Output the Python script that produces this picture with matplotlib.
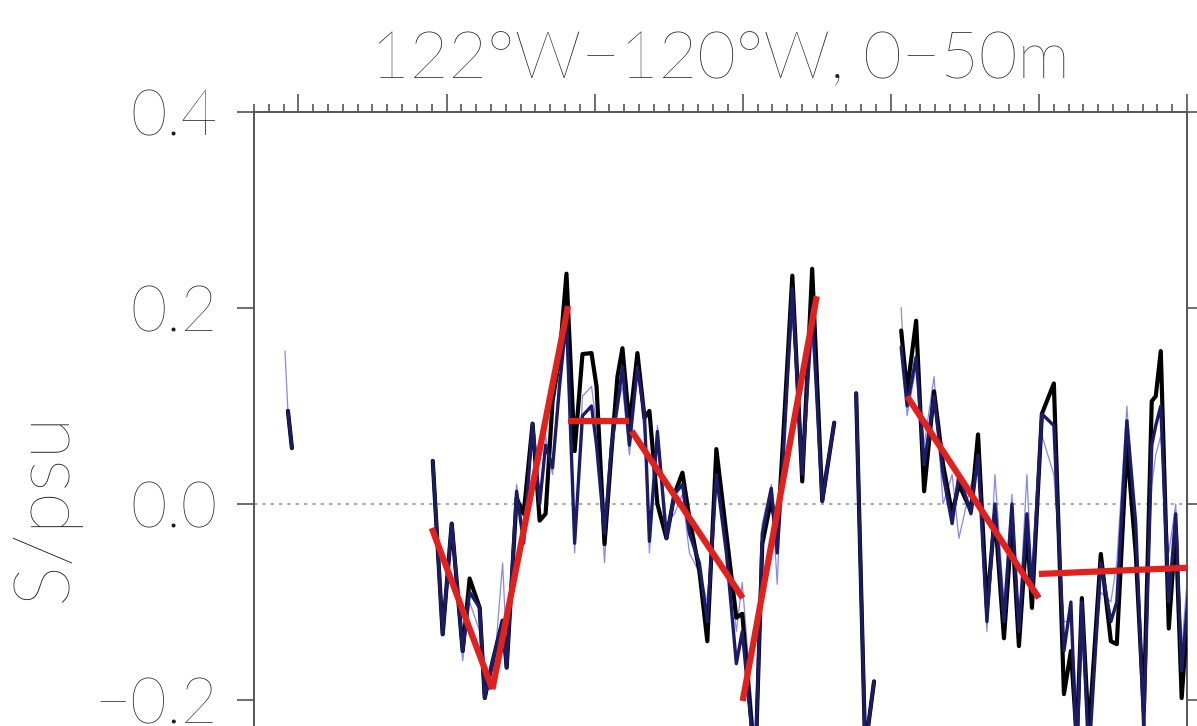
import numpy as np
import matplotlib
matplotlib.use("Agg")
import matplotlib.pyplot as plt

# ------------------------ Data ------------------------
# time axis in years, None marks a gap in the record
years = [1949.09, 1949.29, 1949.56, None,
         1959.07, 1959.74, 1960.35, 1961.09, 1961.56, 1962.24, 1962.58, 1963.12, 1963.79, 1964.06,
         1964.73, 1965.21, 1965.81, 1966.29, 1966.69, 1967.16, 1967.63, 1968.10, 1968.65, 1969.18,
         1969.79, 1970.13, 1970.67, 1971.14, 1971.54, 1971.88, 1972.35, 1972.89, 1973.37, 1973.70,
         1974.24, 1974.85, 1975.39, 1975.93, 1976.40, 1977.07, 1977.61, 1978.22, 1978.90, 1979.57,
         1979.97, 1980.85, 1981.32, 1981.93, 1982.33, 1982.67, 1983.35, 1984.02, 1984.69, 1985.37,
         1986.18, None,
         1987.66, 1988.27, 1988.87, None,
         1990.70, 1991.10, 1991.71, 1992.25, 1992.92, 1993.53, 1994.14, 1994.60, 1995.41, 1995.89,
         1996.49, 1997.03, 1997.64, 1998.18, 1998.65, 1999.19, 1999.53, 2000.20, 2001.01, 2001.69,
         2002.16, 2002.56, 2002.90, 2003.37, 2004.18, 2004.86, 2005.26, 2005.94, 2006.54, 2007.08,
         2007.62, 2007.89, 2008.23, 2008.77, 2009.24, 2009.64, 2010.10]

# salinity anomaly, psu
s_black = [None, 0.095, 0.057, None,
           0.044, -0.133, -0.020, -0.150, -0.076, -0.106, -0.198, -0.160, -0.119, -0.167,
           0.006, -0.010, 0.082, -0.017, -0.010, 0.105, 0.150, 0.235, 0.054, 0.153,
           0.154, 0.120, -0.041, 0.054, 0.130, 0.159, 0.080, 0.154, 0.088, 0.095,
           0.000, -0.035, 0.010, 0.032, -0.014, -0.068, -0.140, 0.056, -0.031, -0.116,
           -0.112, -0.270, -0.041, 0.005, -0.035, 0.051, 0.233, 0.023, 0.240, 0.003,
           0.083, None,
           0.113, -0.250, -0.181, None,
           0.177, 0.115, 0.187, 0.013, 0.115, 0.040, -0.010, 0.020, -0.007, 0.071,
           -0.106, -0.010, -0.137, -0.020, -0.145, -0.024, -0.106, 0.092, 0.123, -0.194,
           -0.150, -0.240, -0.096, -0.235, -0.051, -0.140, -0.143, 0.060, -0.050, -0.211,
           0.105, 0.110, 0.156, -0.127, -0.024, -0.198, -0.100]

s_navy = [None, 0.095, 0.057, None,
          0.044, -0.133, -0.020, -0.150, -0.090, -0.106, -0.198, -0.160, -0.119, -0.167,
          0.013, -0.040, 0.082, 0.000, 0.060, 0.037, 0.120, 0.190, -0.040, 0.090,
          0.100, 0.060, -0.030, 0.060, 0.100, 0.140, 0.060, 0.140, 0.090, -0.038,
          0.074, -0.035, 0.010, 0.020, -0.030, -0.060, -0.120, 0.030, -0.050, -0.163,
          -0.130, -0.270, -0.030, 0.016, -0.050, 0.030, 0.220, 0.030, 0.200, 0.003,
          0.083, None,
          0.113, -0.250, -0.181, None,
          0.160, 0.100, 0.150, 0.040, 0.110, 0.030, -0.020, 0.030, -0.010, 0.050,
          -0.120, 0.000, -0.120, 0.000, -0.130, -0.010, -0.090, 0.092, 0.080, -0.150,
          -0.100, -0.260, -0.100, -0.260, -0.060, -0.120, -0.100, 0.085, -0.020, -0.230,
          0.060, 0.080, 0.100, -0.100, -0.010, -0.170, -0.090]

s_thin = [0.156, 0.095, 0.057, None,
          0.030, -0.120, -0.030, -0.160, -0.100, -0.130, -0.170, -0.185, -0.060, -0.150,
          0.020, -0.030, 0.070, 0.000, 0.070, 0.030, 0.140, 0.170, -0.050, 0.110,
          0.120, 0.080, -0.060, 0.070, 0.100, 0.120, 0.050, 0.140, 0.070, -0.050,
          0.080, -0.020, -0.010, 0.010, -0.050, -0.070, -0.100, 0.030, -0.040, -0.130,
          -0.080, -0.250, -0.020, 0.020, -0.082, 0.040, 0.190, 0.050, 0.170, 0.020,
          0.080, None,
          0.113, -0.250, -0.181, None,
          0.200, 0.090, 0.140, 0.060, 0.130, 0.000, 0.030, -0.035, 0.020, 0.040,
          -0.130, 0.030, -0.100, 0.010, -0.120, 0.030, -0.080, 0.070, 0.030, -0.120,
          -0.120, -0.200, -0.130, -0.220, -0.090, -0.100, -0.060, 0.100, -0.030, -0.200,
          0.020, 0.050, 0.070, -0.050, 0.000, -0.150, -0.060]

# piecewise linear trends (start/end year and value)
trend_x0 = [1959.0, 1963.1, 1968.2, 1972.5, 1980.0, 1991.1, 2000.0]
trend_x1 = [1963.1, 1968.2, 1972.35, 1980.0, 1985.0, 2000.0, 2010.1]
trend_y0 = [-0.0245, -0.189, 0.085, 0.0745, -0.201, 0.110, -0.0714]
trend_y1 = [-0.189, 0.202, 0.085, -0.096, 0.212, -0.096, -0.065]

y_ticks = [-0.2, 0.0, 0.2, 0.4]
y_tick_labels = ["\u22120.2", "0.0", "0.2", "0.4"]
TITLE = "122°W\u2212120°W, 0\u221250m"


def to_arr(vals):
    return np.array([np.nan if v is None else v for v in vals], dtype=float)


# ------------------------ Plot ------------------------
plt.rcParams['font.family'] = ['Lato', 'DejaVu Sans']
plt.rcParams['font.weight'] = 'light'
TEXT_COL = '#1e1e1e'

W, H = 1197, 726
fig = plt.figure(figsize=(W / 100, H / 100), dpi=100)

# axes runs off the bottom of the canvas, like the cropped original
left, right, top = 254, 1187, 112
px_per_unit = 980.0
ylo, yhi = -0.4, 0.4
ax_h = (yhi - ylo) * px_per_unit
ax = fig.add_axes([left / W, 1 - (top + ax_h) / H, (right - left) / W, ax_h / H])

x = to_arr(years)
line_kw = dict(solid_joinstyle='round', solid_capstyle='round')
ax.axhline(0, color='#9a9a9a', lw=1.2, linestyle=(0, (2, 3)), zorder=1)
ax.plot(x, to_arr(s_thin), color='#6a6af0', lw=0.9, alpha=0.8, zorder=2)
ax.plot(x, to_arr(s_black), color='black', lw=3.0, zorder=3, **line_kw)
ax.plot(x, to_arr(s_navy), color='#1c1c66', lw=2.4, zorder=4, **line_kw)
for xa, xb, ya, yb in zip(trend_x0, trend_x1, trend_y0, trend_y1):
    ax.plot([xa, xb], [ya, yb], color='#e3211c', lw=4.5, solid_capstyle='butt', zorder=5)

ax.set_xlim(1947, 2010)
ax.set_ylim(ylo, yhi)
ax.set_xticks(np.arange(1950, 2011, 10))
ax.set_xticks(np.arange(1947, 2011, 1), minor=True)
ax.set_yticks(y_ticks)
ax.set_yticklabels(y_tick_labels)

for sp in ax.spines.values():
    sp.set_color('#555555')
    sp.set_linewidth(1.4)

ax.tick_params(axis='x', which='both', top=True, bottom=True, labeltop=False,
               labelbottom=False, direction='out', color='#555555', width=1.2)
ax.tick_params(axis='x', which='major', length=13)
ax.tick_params(axis='x', which='minor', length=6)
ax.tick_params(axis='y', which='major', left=True, right=True, direction='out',
               length=12, width=1.2, color='#555555', labelsize=45, pad=14,
               labelcolor=TEXT_COL)
ax.tick_params(axis='y', which='minor', left=False, right=False)

fig.text(720 / W, 1 - 78 / H, TITLE, ha='center', va='baseline',
         fontsize=48, color=TEXT_COL)
fig.text(45 / W, 1 - 507 / H, "S/psu", ha='center', va='center', rotation=90,
         fontsize=56, color=TEXT_COL)

fig.savefig("out.png", dpi=100)
